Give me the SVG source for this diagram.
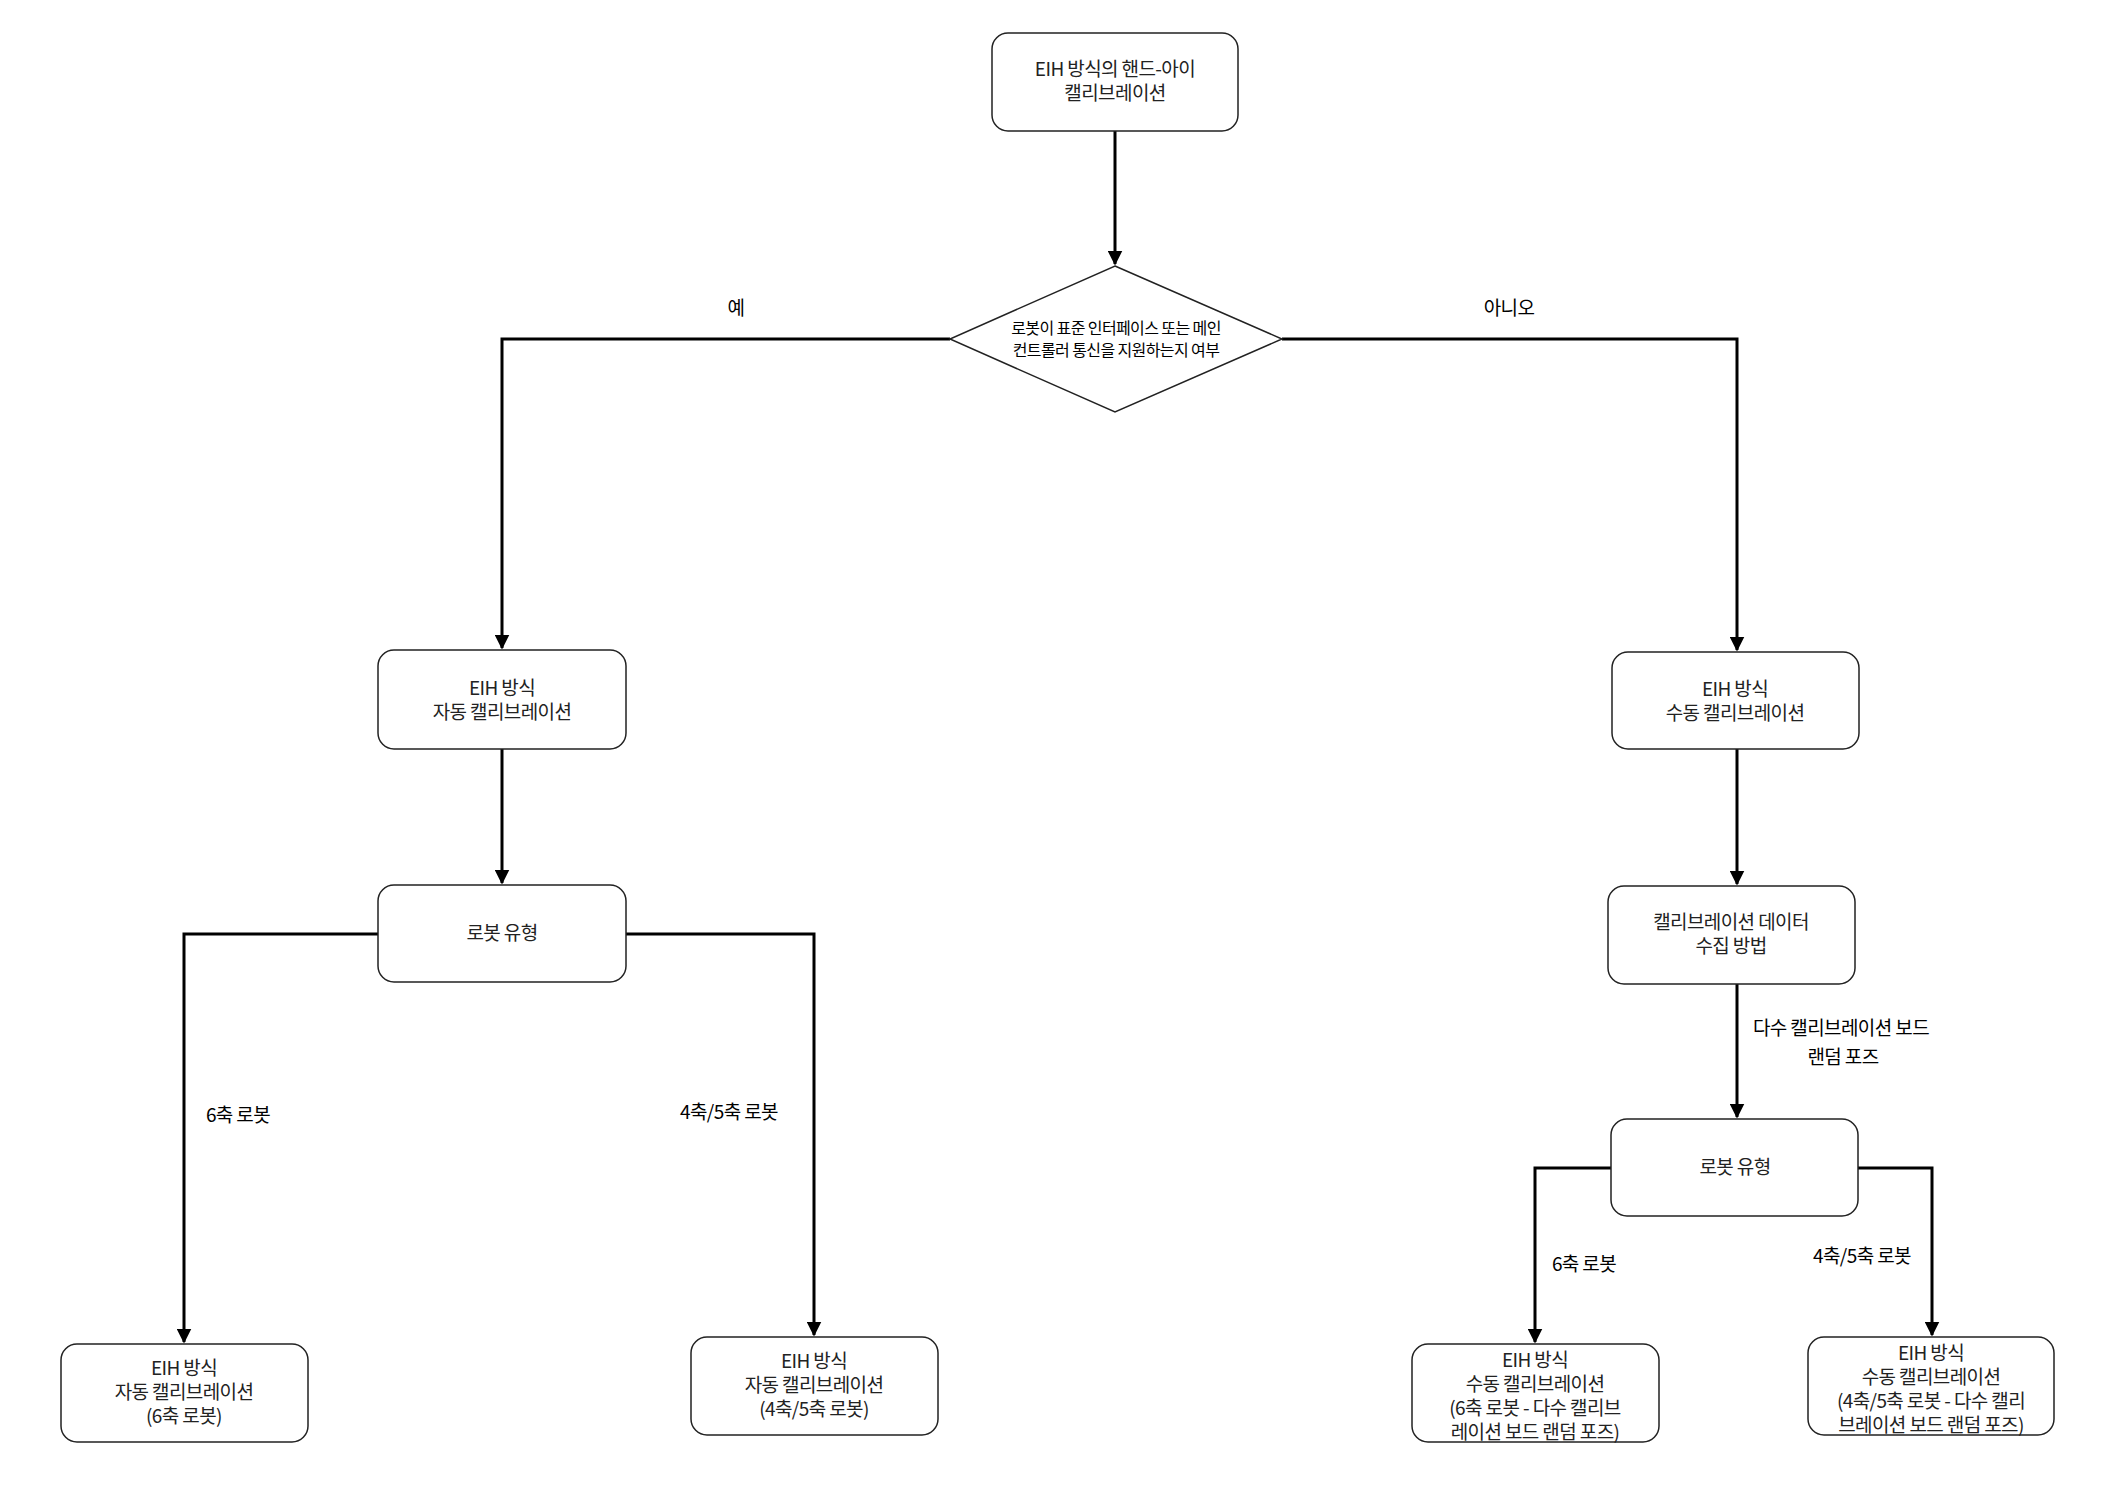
<svg xmlns="http://www.w3.org/2000/svg" width="2126" height="1492" viewBox="0 0 2126 1492">
<style>
.n{fill:#fff;stroke:#222;stroke-width:1.5}
.t{font-family:"Noto Sans CJK KR","Noto Sans",sans-serif;font-size:19px;fill:#222;text-anchor:middle;letter-spacing:-0.6px}
.l{font-family:"Noto Sans CJK KR","Noto Sans",sans-serif;font-size:19px;fill:#000;text-anchor:middle;letter-spacing:-0.6px}
.c{fill:none;stroke:#000;stroke-width:3;marker-end:url(#a)}
</style>
<defs><marker id="a" viewBox="0 0 10 10" refX="9" refY="5" markerWidth="5" markerHeight="5" orient="auto" markerUnits="strokeWidth"><path d="M0,0L10,5L0,10z" fill="#000"/></marker></defs>
<rect width="2126" height="1492" fill="#fff"/>
<g id="connectors">
<path class="c" d="M1115,131V264"/>
<path class="c" d="M950,339H502V648"/>
<path class="c" d="M1282,339H1737V650"/>
<path class="c" d="M502,749V883"/>
<path class="c" d="M1737,749V884"/>
<path class="c" d="M1737,984V1117"/>
<path class="c" d="M378,934H184V1342"/>
<path class="c" d="M626,934H814V1335"/>
<path class="c" d="M1611,1168H1535V1342"/>
<path class="c" d="M1858,1168H1932V1335"/>
<text class="l" x="736" y="315">예</text>
<text class="l" x="1509" y="315">아니오</text>
<text class="l" x="238" y="1122">6축 로봇</text>
<text class="l" x="729" y="1119">4축/5축 로봇</text>
<text class="l" x="1841" y="1035">다수 캘리브레이션 보드</text>
<text class="l" x="1843" y="1064">랜덤 포즈</text>
<text class="l" x="1584" y="1271">6축 로봇</text>
<text class="l" x="1862" y="1263">4축/5축 로봇</text>
</g>
<g id="start"><rect class="n" x="992" y="33" width="246" height="98" rx="16"/><text class="t" x="1115" y="76">EIH 방식의 핸드-아이</text><text class="t" x="1115" y="100">캘리브레이션</text></g>
<g id="decision"><path class="n" d="M1115,266L1282,339L1115,412L950,339z"/><text class="l" x="1116" y="334" style="font-size:16px">로봇이 표준 인터페이스 또는 메인</text><text class="l" x="1116" y="356" style="font-size:16px">컨트롤러 통신을 지원하는지 여부</text></g>
<g id="auto"><rect class="n" x="378" y="650" width="248" height="99" rx="16"/><text class="t" x="502" y="695">EIH 방식</text><text class="t" x="502" y="719">자동 캘리브레이션</text></g>
<g id="manual"><rect class="n" x="1612" y="652" width="247" height="97" rx="16"/><text class="t" x="1735" y="696">EIH 방식</text><text class="t" x="1735" y="720">수동 캘리브레이션</text></g>
<g id="robotL"><rect class="n" x="378" y="885" width="248" height="97" rx="16"/><text class="t" x="502" y="940">로봇 유형</text></g>
<g id="data"><rect class="n" x="1608" y="886" width="247" height="98" rx="16"/><text class="t" x="1731" y="929">캘리브레이션 데이터</text><text class="t" x="1731" y="953">수집 방법</text></g>
<g id="robotR"><rect class="n" x="1611" y="1119" width="247" height="97" rx="16"/><text class="t" x="1735" y="1174">로봇 유형</text></g>
<g id="a6"><rect class="n" x="61" y="1344" width="247" height="98" rx="16"/><text class="t" x="184" y="1375">EIH 방식</text><text class="t" x="184" y="1399">자동 캘리브레이션</text><text class="t" x="184" y="1423">(6축 로봇)</text></g>
<g id="a45"><rect class="n" x="691" y="1337" width="247" height="98" rx="16"/><text class="t" x="814" y="1368">EIH 방식</text><text class="t" x="814" y="1392">자동 캘리브레이션</text><text class="t" x="814" y="1416">(4축/5축 로봇)</text></g>
<g id="m6"><rect class="n" x="1412" y="1344" width="247" height="98" rx="16"/><text class="t" x="1535" y="1367">EIH 방식</text><text class="t" x="1535" y="1391">수동 캘리브레이션</text><text class="t" x="1535" y="1415">(6축 로봇 - 다수 캘리브</text><text class="t" x="1535" y="1439">레이션 보드 랜덤 포즈)</text></g>
<g id="m45"><rect class="n" x="1808" y="1337" width="246" height="98" rx="16"/><text class="t" x="1931" y="1360">EIH 방식</text><text class="t" x="1931" y="1384">수동 캘리브레이션</text><text class="t" x="1931" y="1408">(4축/5축 로봇 - 다수 캘리</text><text class="t" x="1931" y="1432">브레이션 보드 랜덤 포즈)</text></g>
</svg>
